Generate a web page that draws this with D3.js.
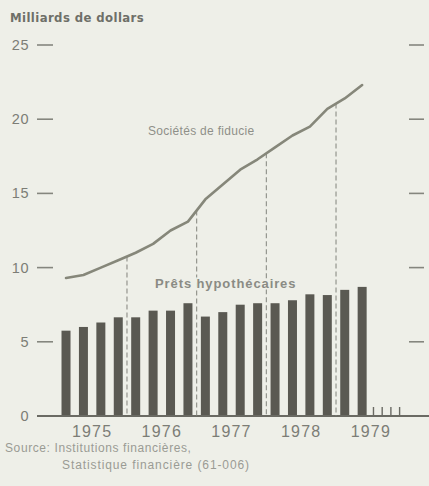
<!DOCTYPE html>
<html><head><meta charset="utf-8">
<script src="https://cdn.jsdelivr.net/npm/d3@7"></script>
<style>
html,body{margin:0;padding:0;background:#eeefe8;}
svg{display:block;}
</style></head>
<body>
<div id="chart"></div>
<script>
// Quarterly data, 1975 Q1 - 1979 Q2 (milliards de dollars)
const quarters = ["1975T1","1975T2","1975T3","1975T4","1976T1","1976T2","1976T3","1976T4",
  "1977T1","1977T2","1977T3","1977T4","1978T1","1978T2","1978T3","1978T4","1979T1","1979T2"];
const fiducie = [9.3,9.5,10.0,10.5,11.0,11.6,12.5,13.1,14.6,15.6,16.6,17.3,18.1,18.9,19.5,20.7,21.4,22.3];
const hypotheques = [5.75,6.0,6.3,6.65,6.65,7.1,7.1,7.6,6.7,7.0,7.5,7.6,7.6,7.8,8.2,8.15,8.5,8.7];
const years = ["1975","1976","1977","1978","1979"];
const yTicks = [0,5,10,15,20,25];
const yearBounds = [4,8,12,16];
const futureTicks = [18.15,18.65,19.15,19.65];

const W = 429, H = 486;
const svg = d3.select("#chart").append("svg").attr("width", W).attr("height", H);
svg.append("rect").attr("width", W).attr("height", H).attr("fill", "#eeefe8");

const x = d3.scaleLinear().domain([0, 20]).range([57.3, 57.3 + 20 * 17.42]);
const y = d3.scaleLinear().domain([0, 25]).range([416, 45]);

const font = "'Liberation Sans', Arial, sans-serif";
const textCol = "#7c7d76";

// title
svg.append("text").attr("x", 10).attr("y", 22)
  .attr("font-family", "'DejaVu Sans Condensed','Liberation Sans',sans-serif")
  .attr("font-size", 13).attr("font-weight", "bold").attr("fill", "#6e6f68")
  .attr("letter-spacing", 0.4)
  .text("Milliards de dollars");

// left axis labels and ticks
const yg = svg.append("g");
yTicks.forEach(t => {
  yg.append("text").attr("x", 29).attr("y", y(t) + 5).attr("text-anchor", "end")
    .attr("font-family", font).attr("font-size", 14.5).attr("fill", textCol)
    .attr("letter-spacing", 0.5).text(t);
  if (t > 0) {
    yg.append("line").attr("x1", 37).attr("x2", 53).attr("y1", y(t)).attr("y2", y(t))
      .attr("stroke", "#85867e").attr("stroke-width", 1.6);
    yg.append("line").attr("x1", 409).attr("x2", 424).attr("y1", y(t)).attr("y2", y(t))
      .attr("stroke", "#85867e").attr("stroke-width", 1.6);
  }
});

// bars
const barW = 9;
svg.append("g").selectAll("rect").data(hypotheques).join("rect")
  .attr("x", (d, i) => x(i + 0.5) - barW / 2)
  .attr("width", barW)
  .attr("y", d => y(d))
  .attr("height", d => y(0) - y(d))
  .attr("fill", "#5a5952");

// future small ticks
svg.append("g").selectAll("line").data(futureTicks).join("line")
  .attr("x1", d => x(d)).attr("x2", d => x(d))
  .attr("y1", y(0)).attr("y2", y(0) - 9)
  .attr("stroke", "#6a6a63").attr("stroke-width", 1.4);

// baseline
svg.append("line").attr("x1", 37).attr("x2", W).attr("y1", y(0)).attr("y2", y(0))
  .attr("stroke", "#6a6a63").attr("stroke-width", 2);

// dashed year boundaries from line down to baseline
svg.append("g").selectAll("line").data(yearBounds).join("line")
  .attr("x1", d => x(d)).attr("x2", d => x(d))
  .attr("y1", d => y((fiducie[d - 1] + fiducie[d]) / 2))
  .attr("y2", y(0))
  .attr("stroke", "#8c8d86").attr("stroke-width", 1.1)
  .attr("stroke-dasharray", "5,3");

// line
const line = d3.line().x((d, i) => x(i + 0.5)).y(d => y(d));
svg.append("path").datum(fiducie).attr("d", line)
  .attr("fill", "none").attr("stroke", "#86877a").attr("stroke-width", 2.6)
  .attr("stroke-linejoin", "round").attr("stroke-linecap", "round");

// series labels
svg.append("text").attr("x", 148).attr("y", 135)
  .attr("font-family", font).attr("font-size", 12).attr("fill", "#8e8f88")
  .attr("letter-spacing", 0.3)
  .text("Sociétés de fiducie");
svg.append("text").attr("x", 155).attr("y", 288)
  .attr("font-family", font).attr("font-size", 13).attr("font-weight", "bold")
  .attr("fill", "#8a8b84").attr("stroke", "#eeefe8").attr("stroke-width", 3)
  .attr("paint-order", "stroke").attr("letter-spacing", 0.9)
  .text("Prêts hypothécaires");

// year labels
svg.append("g").selectAll("text").data(years).join("text")
  .attr("x", (d, i) => x(2 + 4 * i)).attr("y", 437)
  .attr("text-anchor", "middle")
  .attr("font-family", font).attr("font-size", 16).attr("fill", textCol)
  .attr("letter-spacing", 1.2).text(d => d);

// source
svg.append("text").attr("x", 5).attr("y", 452)
  .attr("font-family", font).attr("font-size", 12).attr("fill", "#9a9b94")
  .attr("letter-spacing", 0.6)
  .text("Source: Institutions financières,");
svg.append("text").attr("x", 62).attr("y", 469)
  .attr("font-family", font).attr("font-size", 12).attr("fill", "#9a9b94")
  .attr("letter-spacing", 0.9)
  .text("Statistique financière (61-006)");
</script>
</body></html>
